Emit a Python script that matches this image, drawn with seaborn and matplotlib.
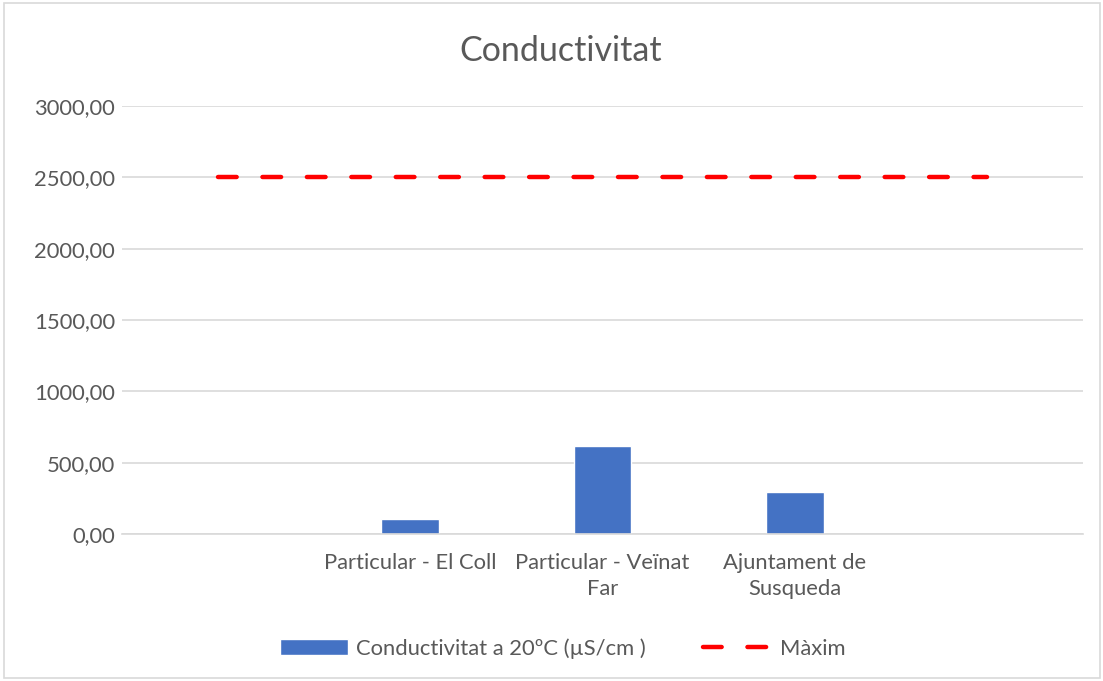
import numpy as np
import pandas as pd
import matplotlib
matplotlib.use('Agg')
import matplotlib.pyplot as plt
import seaborn as sns
from matplotlib.patches import Rectangle
from matplotlib.ticker import FuncFormatter

# dades
categories = ['', 'Particular - El Coll', 'Particular - Veïnat\nFar', 'Ajuntament de\nSusqueda', ' ']
conductivitat = [np.nan, 104, 620, 295, np.nan]
maxim = [2500, 2500, 2500, 2500, 2500]
yticks = [0, 500, 1000, 1500, 2000, 2500, 3000]

sns.set_style('white')
plt.rcParams['font.family'] = ['Lato', 'DejaVu Sans']

df = pd.DataFrame({'cat': categories, 'cond': conductivitat, 'max': maxim})
df['pos'] = range(len(df))

fig = plt.figure(figsize=(11.03, 6.81), dpi=100)
ax = fig.add_axes([0.1106, 0.2159, 0.8713, 0.6284])

sns.barplot(data=df, x='cat', y='cond', order=categories, color='#4472C4',
            width=0.30, saturation=1, ax=ax, label='Conductivitat a 20ºC (µS/cm )')
sns.lineplot(data=df, x='pos', y='max', color='#FF0000', lw=3.2, ax=ax,
             label='Màxim')
ax.lines[-1].set_linestyle((0, (4.2, 5.8)))
ax.lines[-1].set_dash_capstyle('round')

ax.set_xlim(-0.5, 4.5)
ax.set_ylim(0, 3000)
ax.set_yticks(yticks)
ax.yaxis.set_major_formatter(FuncFormatter(lambda v, p: f'{v:.2f}'.replace('.', ',')))
ax.grid(axis='y', color='#D9D9D9', lw=1.2)
ax.set_axisbelow(True)
for s in ['top', 'right', 'left']:
    ax.spines[s].set_visible(False)
ax.spines['bottom'].set_color('#D9D9D9')
ax.spines['bottom'].set_linewidth(1.2)
ax.tick_params(axis='both', length=0, labelsize=15.8, colors='#595959')
ax.tick_params(axis='x', pad=14)
ax.tick_params(axis='y', pad=5)
for t in ax.get_xticklabels():
    t.set_linespacing(1.35)
ax.set_xlabel('')
ax.set_ylabel('')

fig.suptitle('Conductivitat', x=0.508, y=0.948, fontsize=24.5, color='#595959')

handles, labels = ax.get_legend_handles_labels()
order = [labels.index('Conductivitat a 20ºC (µS/cm )'), labels.index('Màxim')]
leg = ax.legend([handles[i] for i in order], [labels[i] for i in order],
                loc='center', ncol=2, frameon=False,
                fontsize=15.8, handlelength=3.1, handleheight=0.8, handletextpad=0.4,
                columnspacing=2.6, labelcolor='#595959')
leg.set_bbox_to_anchor((0.51, 0.048), transform=fig.transFigure)

fig.patches.append(Rectangle((0.004, 0.004), 0.993, 0.992, transform=fig.transFigure,
                             fill=False, edgecolor='#D9D9D9', lw=1.2))

fig.savefig('out.png', dpi=100)
